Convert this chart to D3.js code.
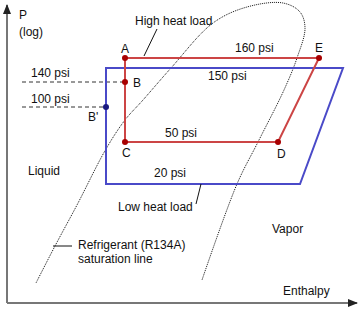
<!DOCTYPE html>
<html>
<head>
<meta charset="utf-8">
<script src="https://cdn.jsdelivr.net/npm/d3@7"></script>
<style>
  body { margin: 0; background: #fff; }
  text { font-family: Arial, "Liberation Sans", sans-serif; font-size: 12px; fill: #111; }
</style>
</head>
<body>
<div id="chart"></div>
<script>
// diagram units: h = enthalpy (arbitrary), p = pressure position above axis
var pressureLabels = ["160 psi", "150 psi", "140 psi", "100 psi", "50 psi", "20 psi"];
var pressureLevels = [245, 235, 221, 196, 161, 119];

// high heat load cycle (red): A -> E -> D -> C
var highNames = ["A", "E", "D", "C"];
var highH = [118, 312, 271, 118];
var highP = [245, 245, 161, 161];

// low heat load cycle (blue)
var lowH = [99, 336, 293, 99];
var lowP = [235, 235, 119, 119];

// extra marked points
var markNames = ["B", "B'"];
var markH = [118, 99];
var markP = [221, 196];

// saturation dome
var domeH = [29, 48, 70, 99, 118, 136, 164, 206, 240, 276, 293, 298, 290, 277, 251, 230, 195];
var domeP = [20, 57, 98, 154, 183, 203, 235, 280, 296, 300, 291, 275, 245, 213, 161, 119, 23];

var width = 360, height = 309;

var svg = d3.select("#chart")
  .append("svg")
    .attr("width", width)
    .attr("height", height);

var x = d3.scaleLinear().domain([0, 350]).range([7, 357]);
var y = d3.scaleLinear().domain([0, 300]).range([303, 3]);

// arrow heads
var defs = svg.append("defs");
defs.append("marker")
    .attr("id", "arrow")
    .attr("viewBox", "0 0 10 10")
    .attr("refX", 9).attr("refY", 5)
    .attr("markerWidth", 5).attr("markerHeight", 5)
    .attr("markerUnits", "strokeWidth")
    .attr("orient", "auto")
  .append("path")
    .attr("d", "M0,1 L10,5 L0,9 Z")
    .attr("fill", "#222");

// axes
svg.append("line")
  .attr("x1", x(0)).attr("y1", y(0))
  .attr("x2", x(0)).attr("y2", y(298))
  .attr("stroke", "#777").attr("stroke-width", 2)
  .attr("marker-end", "url(#arrow)");
svg.append("line")
  .attr("x1", x(0)).attr("y1", y(0))
  .attr("x2", x(350)).attr("y2", y(0))
  .attr("stroke", "#777").attr("stroke-width", 2)
  .attr("marker-end", "url(#arrow)");

// saturation dome
var dome = domeH.map(function(h, i) { return [h, domeP[i]]; });
svg.append("path")
  .attr("d", d3.line()
    .x(function(d) { return x(d[0]); })
    .y(function(d) { return y(d[1]); })
    .curve(d3.curveCatmullRom.alpha(0.5))(dome))
  .attr("fill", "none")
  .attr("stroke", "#111")
  .attr("stroke-width", 1)
  .attr("stroke-dasharray", "1,1");

// dashed pressure guides for B and B'
markH.forEach(function(h, i) {
  svg.append("line")
    .attr("x1", 22).attr("y1", y(markP[i]))
    .attr("x2", x(h)).attr("y2", y(markP[i]))
    .attr("stroke", "#333")
    .attr("stroke-width", 1)
    .attr("stroke-dasharray", "4,3");
});

var line = d3.line()
  .x(function(d) { return x(d[0]); })
  .y(function(d) { return y(d[1]); })
  .curve(d3.curveLinearClosed);

// low heat load (blue)
svg.append("path")
  .attr("d", line(lowH.map(function(h, i) { return [h, lowP[i]]; })))
  .attr("fill", "none")
  .attr("stroke", "#4a4ac8")
  .attr("stroke-width", 2);

// high heat load (red)
svg.append("path")
  .attr("d", line(highH.map(function(h, i) { return [h, highP[i]]; })))
  .attr("fill", "none")
  .attr("stroke", "#cc4545")
  .attr("stroke-width", 2);

// points
highH.forEach(function(h, i) {
  svg.append("circle")
    .attr("cx", x(h)).attr("cy", y(highP[i])).attr("r", 3)
    .attr("fill", "#a80000");
});
svg.append("circle")
  .attr("cx", x(markH[0])).attr("cy", y(markP[0])).attr("r", 3)
  .attr("fill", "#a80000");
svg.append("circle")
  .attr("cx", x(markH[1])).attr("cy", y(markP[1])).attr("r", 3)
  .attr("fill", "#1a1a80");

// point labels
var pointLabels = [
  {t: "A", h: highH[0], p: highP[0], dx: -4, dy: -5},
  {t: "E", h: highH[1], p: highP[1], dx: -4, dy: -6},
  {t: "D", h: highH[2], p: highP[2], dx: -1, dy: 16},
  {t: "C", h: highH[3], p: highP[3], dx: -3, dy: 15},
  {t: "B", h: markH[0], p: markP[0], dx: 8, dy: 5},
  {t: "B'", h: markH[1], p: markP[1], dx: -18, dy: 14}
];
svg.selectAll(".plabel")
  .data(pointLabels)
  .enter().append("text")
    .attr("x", function(d) { return x(d.h) + d.dx; })
    .attr("y", function(d) { return y(d.p) + d.dy; })
    .text(function(d) { return d.t; });

// pressure labels
var plx = [235, 208, 31, 31, 165, 154];
var ply = [52, 80, 77, 103, 137, 177];
pressureLabels.forEach(function(t, i) {
  svg.append("text").attr("x", plx[i]).attr("y", ply[i]).text(t);
});

// other text
svg.append("text").attr("x", 19).attr("y", 19).text("P");
svg.append("text").attr("x", 19).attr("y", 36).text("(log)");
svg.append("text").attr("x", 135).attr("y", 25).text("High heat load");
svg.append("text").attr("x", 28).attr("y", 175).text("Liquid");
svg.append("text").attr("x", 118).attr("y", 211).text("Low heat load");
svg.append("text").attr("x", 272).attr("y", 233).text("Vapor");
svg.append("text").attr("x", 78).attr("y", 249).text("Refrigerant (R134A)");
svg.append("text").attr("x", 78).attr("y", 263).text("saturation line");
svg.append("text").attr("x", 283).attr("y", 295).text("Enthalpy");

// leader lines
var leaders = [[157, 29, 144, 56], [201, 184, 196, 204], [53, 246, 72, 246]];
leaders.forEach(function(l) {
  svg.append("line")
    .attr("x1", l[0]).attr("y1", l[1])
    .attr("x2", l[2]).attr("y2", l[3])
    .attr("stroke", "#111").attr("stroke-width", 1);
});
</script>
</body>
</html>
